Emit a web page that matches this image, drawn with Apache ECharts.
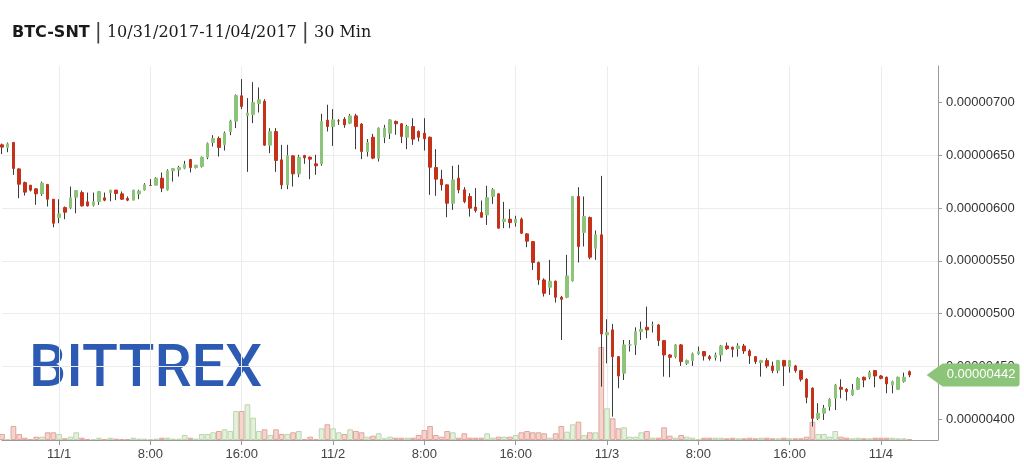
<!DOCTYPE html>
<html><head><meta charset="utf-8">
<script src="https://cdn.jsdelivr.net/npm/echarts@6/dist/echarts.min.js"></script>
<style>html,body{margin:0;padding:0;background:#fff}#c{width:1024px;height:465px}</style>
</head><body><div id="c"></div>
<script>
// Prices in satoshi (1e-8 BTC), 30-minute candles starting 10/31/2017 19:00
const opens = [659.8,657.3,662,637,624.1,621.6,618.1,613.4,622.2,608.3,591,600.4,600.1,610.2,614.6,605.8,602.7,606.1,609.6,614.6,
616.9,613.4,609,607.4,613.4,617.2,621.3,621.6,628.2,617.2,635.2,636.1,637.7,645.9,638.3,639.3,648.1,662,665.8,659.8,
672.4,682.2,706.2,687.6,688.5,698.9,701.1,659.5,672.4,645.6,621.9,649.4,632.3,649.7,648.1,641.8,641.8,683.1,677.1,682.5,
684.1,680.3,687.2,679.4,653.5,667,647.2,667,670.8,681.9,679.7,667,677.1,672.4,670.8,667,638.3,627.3,621.9,604.5,
628.2,617.2,610.9,600.8,595.7,593.5,610.9,613.4,587.2,589.4,586.2,589.4,575.5,568.2,548.4,531.9,525,530.7,515.5,515.5,
531,610.9,576.8,591,561.9,574.6,479.9,484.6,459.3,443.6,470.4,470.4,483,487.1,489.3,489.3,474.5,460.9,459.3,470.4,
453,455.6,461.9,464.1,459.3,458.7,460.9,469.4,468.2,466.9,469.4,464.7,459.3,453.7,455.6,450.5,446.1,455.6,449.9,450.5,
446.1,437.9,429.4,400.9,405.7,412,419.9,430.3,428.4,423,428.4,439.8,439.8,446.1,441,439.8,432.5,428.4,435.7,445.1];
const closes = [657.6,660.7,637.4,622.5,615,616.9,613.4,623.5,608.3,585.6,594.4,596,609.6,616.5,602,602,605.8,615.6,607.4,616.9,
613.7,608.3,607.4,616.9,615.9,621.9,621.3,628.2,618.8,635.2,637.4,638.3,641.2,638.3,640.5,648.1,661,665.8,657.3,670.8,
682.2,706.5,696.1,689.8,699.9,702.4,659.5,672.4,645,621.9,649.4,632.3,648.1,647.5,646.2,639.9,681.9,677.1,683.4,682.5,
678.7,687.2,677.1,653.5,662,647.2,675.6,675.6,683.4,679.7,667.7,677.1,665.2,667,665.5,638.6,627.3,621.9,604.5,626.6,
617.2,606.1,599.8,597.6,591.3,609.9,617.2,580.9,589.4,586.2,589.4,576.1,568.6,548.4,531.9,519.3,530.7,515.5,513.6,535.7,
610.9,563.5,591.9,553.4,574.6,480.8,482.1,459.3,441,470.4,470.4,483,485.2,484.6,489.3,474.5,460.9,458.7,470.4,454.6,
455.6,461.9,464.1,460,457.4,460.9,469.4,466.9,466.3,469.4,464.7,460,454.6,455.6,450.5,446.1,455.6,450.5,455.6,446.1,
437.9,420.8,400.9,405.7,410.4,418.9,432.5,428.4,426.2,427.8,438.8,437.2,444.2,441,438.8,433.5,435.7,439.8,439.8,442];
const lows = [651,652.8,631.4,609.3,611.8,615.6,603,611.5,601.4,581.8,585.6,589.4,598.9,595,601.4,601.4,601.4,603,606.4,606.4,
607.4,607.7,606.4,607.4,608.3,616.5,621,621.3,615,616.5,625,629.8,636.7,633.6,637.4,638.3,646.2,658.2,648.7,654.4,
668.9,675.6,693.6,634.2,680.3,690.4,658.8,651.9,634.2,617.8,617.8,620.3,629.2,641.8,627.3,631.4,639.9,672.4,658.8,678.7,
675.9,679.4,655.7,646.2,648.7,646.2,644,661.4,665.2,669.3,661.4,655.7,659.8,663,654.4,612.4,611.5,616.5,591.3,598.2,
614,604.5,591.9,595.7,590.7,584,603.9,580.6,580.9,580.9,582.4,575.5,562.9,541.4,527.2,516.2,517.7,510.5,475,514.6,
530.4,548.4,563.5,551.5,550.9,430.9,453,402.5,429.4,437.2,464.1,460.9,475.1,476.7,482.1,469.4,440.4,439.8,457.8,450.5,
451.5,450.5,460.9,455.6,455.6,455.6,454.6,465.7,458.7,459.3,461.9,452.4,452.4,440.4,448.3,443.6,443.6,431.6,444.2,444.2,
435.7,415.2,393.1,399.4,399.4,408.2,408.8,419.9,417.7,422.1,427.8,430.3,437.9,430.3,437.9,424.6,424.6,427.8,434.7,439.8];
const highs = [661,662,662.6,637.5,625,621.6,618.8,625,622.8,608.3,608.3,601.4,620.3,617,616.5,614.6,614.6,616.2,614.6,617.2,
617.2,615.6,610.9,617.2,617.2,623.5,627.3,629.2,633.6,636.7,637.7,639.9,644.6,646.5,640.8,648.7,662,668.9,667.7,672.4,
683.5,707.5,722,704,719.1,714.1,703,675.6,675.6,659.8,659.8,650,650.3,650.3,648.7,650.3,689.1,697.7,693.6,684.1,
686,689.1,689.1,680.3,665.2,670.2,676.2,678.7,684.1,682.8,680.3,678.7,685,673.4,685,667.6,655.7,636.1,622.5,639.9,
640.8,619.7,614,618.8,607.1,621,618.8,614,605.8,598.9,592.6,591,576.1,568.8,549.3,533.5,550.9,531.3,516.8,555.6,
611.2,619.7,610.9,591.9,578.7,630.4,494.7,490.3,459.9,475.1,475.1,487.1,492.5,506.7,492.5,490.3,475.1,461.5,471.3,471.3,
456.5,463.1,468.8,464.7,460.9,463.1,470.4,472.6,468.8,472,471.3,466.3,459.9,456.2,457.8,454.6,456.2,456.2,456.2,451.5,
446.7,438.8,430.3,415.2,413.6,419.9,433.5,437.9,429.4,433.5,439.8,440.4,446.1,446.7,442,440.4,436.6,440.4,444.2,446.1];
const volumes = [6,1,14,6,2.3,1,3.3,3.3,7.7,7.7,6,1.7,3.3,7.7,2.3,1,1,2.3,0.7,2.3,
1.3,1,1,2.3,1.3,1.3,1,1.3,2.3,2.3,1.3,1.3,5,2.3,1.3,6,6,7.7,9,10.7,
9,29,29,35.7,22.3,9,10.7,5,10.7,6,6,7.7,9,1,3.3,1,11.7,15.7,11.7,7.7,
6,10.7,9,7.7,3.3,4.3,6.7,1.7,3.3,2.3,2.3,2.3,2.3,5,10,14,5,3.3,9,7.7,
2.3,6.7,2.3,2.3,2.3,6.7,2.3,3.3,3.3,3.3,5,7.7,9,7.7,7.7,6.7,2.3,6.7,14,8.3,
15.7,18.3,5,7.7,7.7,93,31.7,21.7,11.7,12.7,3.3,3.3,7.7,9,2.3,2.3,12.7,4.3,2.3,5,
3.3,2.3,1,2.3,2.3,2.3,2.3,1.7,2.3,1.7,1.7,2.3,1.7,2.3,2.3,1.7,1.7,2.3,1.7,1.7,
1.7,3.3,18.3,6,6,3.3,9,3.3,2.3,1.7,2.3,1.7,1.7,2.3,2.3,2.3,2.3,1.7,1.7,1];
const yTickValues = [400,450,500,550,600,650,700];
const xTickTimes = ['0:00','8:00','16:00'];
const emptySlots = 5;

// categories: 30-minute slots from 10/31 19:00
const categories = [];
for (let i = 0; i < opens.length + emptySlots; i++) {
  const mins = 19 * 60 + 30 * i;
  const dayOff = Math.floor(mins / 1440);
  const m = mins % 1440;
  const date = dayOff === 0 ? '10/31' : '11/' + dayOff;
  categories.push(date + ' ' + Math.floor(m / 60) + ':' + (m % 60 === 0 ? '00' : '30'));
}
const isTick = (idx) => xTickTimes.indexOf(categories[idx].split(' ')[1]) >= 0;
const fmtLabel = (v) => { const p = v.split(' '); return p[1] === '0:00' ? p[0] : p[1]; };
const toBTC = (v) => (v / 1e8).toFixed(8);

const GREEN = '#8cc47a', RED = '#c5321a';
const wickData = opens.map((o, i) => [o, closes[i], lows[i], highs[i]]);
const bodyData = opens.map((o, i) => [o, closes[i], Math.min(o, closes[i]), Math.max(o, closes[i])]);
const volData = volumes.map((v, i) => ({
  value: v,
  itemStyle: closes[i] >= opens[i]
    ? {color: '#e4f0dc', borderColor: '#bcd6ae'}
    : {color: '#f3d4cf', borderColor: '#e2a59b'}
}));
const lastIdx = closes.length - 1;

const chart = echarts.init(document.getElementById('c'));
chart.setOption({
  animation: false,
  backgroundColor: '#fff',
  title: {
    left: 12, top: 22, padding: 0,
    text: '{a|BTC-SNT} {s||} {b|10/31/2017-11/04/2017} {s||} {b|30 Min}',
    textStyle: {
      fontFamily: 'DejaVu Serif', fontSize: 16, fontWeight: 'normal', color: '#1a1a1a',
      rich: {
        a: {fontFamily: 'DejaVu Sans', fontWeight: 'bold', fontSize: 16, color: '#1a1a1a'},
        s: {fontFamily: 'DejaVu Sans', fontWeight: 'normal', fontSize: 21, color: '#444'},
        b: {fontFamily: 'DejaVu Serif', fontWeight: 'normal', fontSize: 16, color: '#1a1a1a'}
      }
    }
  },
  graphic: [{
    type: 'text', left: 29, top: 342, z: 0, silent: true,
    style: {
      text: 'BITTREX', font: '500 59px Roboto', fill: '#2d5ab2'
    }
  }],
  grid: {left: 2, right: 86, top: 66, bottom: 25},
  xAxis: {
    type: 'category', data: categories, boundaryGap: false,
    axisLine: {lineStyle: {color: '#999'}},
    axisTick: {interval: (i) => isTick(i), length: 5, lineStyle: {color: '#999'}},
    axisLabel: {interval: (i) => isTick(i), formatter: fmtLabel, color: '#444',
      fontFamily: 'Liberation Sans', fontSize: 13, margin: 8},
    splitLine: {show: true, interval: (i) => isTick(i), lineStyle: {color: '#ececec'}}
  },
  yAxis: [{
    type: 'value', position: 'right', min: 380.4, max: 734.4, scale: true,
    axisLine: {show: true, lineStyle: {color: '#999'}},
    axisTick: {show: true, length: 4, customValues: yTickValues, lineStyle: {color: '#999'}},
    axisLabel: {customValues: yTickValues, formatter: toBTC, color: '#333',
      fontFamily: 'Liberation Sans', fontSize: 13, margin: 8},
    splitLine: {show: true, showMinLine: false, showMaxLine: false, lineStyle: {color: '#ececec'}}
  }, {
    type: 'value', min: 0, max: 374, show: false, splitLine: {show: false}
  }],
  series: [{
    type: 'bar', name: 'Volume', yAxisIndex: 1, data: volData, barCategoryGap: '0%',
    clip: false, z: 1, itemStyle: {borderWidth: 1}, silent: true
  }, {
    type: 'candlestick', name: 'wick', data: wickData, barWidth: 1, clip: false, z: 2,
    itemStyle: {color: '#3c3c3c', color0: '#3c3c3c', borderColor: '#3c3c3c', borderColor0: '#3c3c3c', borderWidth: 1},
    silent: true
  }, {
    type: 'candlestick', name: 'BTC-SNT', data: bodyData, barWidth: 3, clip: false, z: 3,
    itemStyle: {color: GREEN, color0: RED, borderColor: GREEN, borderColor0: RED, borderWidth: 1},
    silent: true,
    markPoint: {
      symbol: 'path://M0,11.5L16,0L90,0Q93,0 93,3L93,20Q93,23 90,23L16,23Z',
      symbolSize: [93, 23], symbolOffset: [46.5, 0], symbolKeepAspect: false,
      itemStyle: {color: GREEN},
      label: {show: true, position: 'inside', offset: [8, 0], color: '#fff', fontSize: 13,
        fontFamily: 'Liberation Sans', formatter: (p) => toBTC(p.value)},
      data: [{coord: [categories[lastIdx + 3], closes[lastIdx]], value: closes[lastIdx]}],
      silent: true
    }
  }]
});
</script>
</body></html>
